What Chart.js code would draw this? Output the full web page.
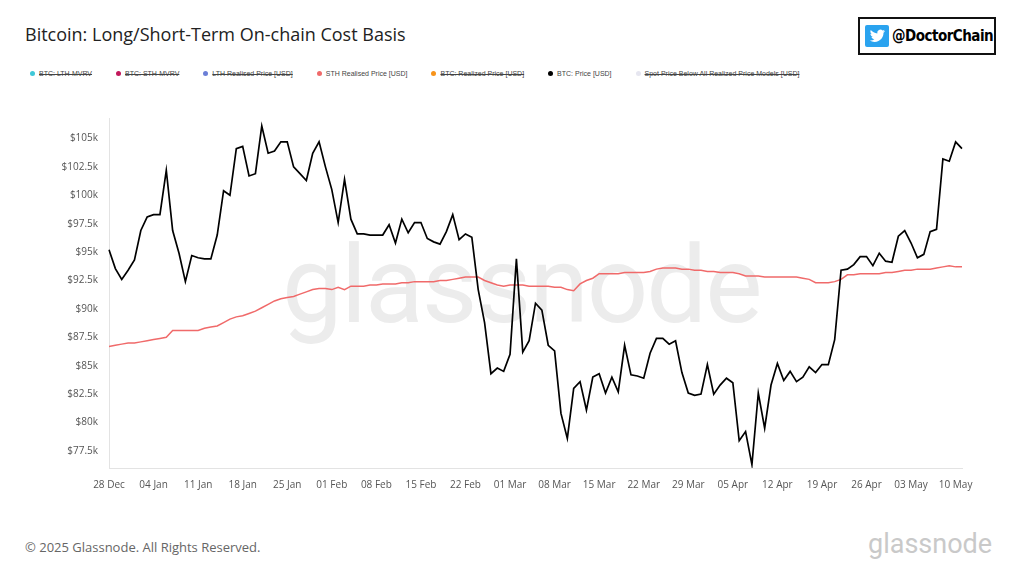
<!DOCTYPE html>
<html><head><meta charset="utf-8">
<script src="https://cdn.jsdelivr.net/npm/chart.js@4"></script>
<style>
body{margin:0;width:1024px;height:576px;background:#fff;font-family:"Open Sans",Roboto,sans-serif;position:relative;overflow:hidden}
#title{position:absolute;left:25px;top:22px;font-size:18px;color:#222}
#legend{position:absolute;left:30px;top:70px;font-size:7px;color:#444;display:flex;gap:0;font-family:"Liberation Sans",sans-serif}
#legend span{display:inline-flex;align-items:center;margin-right:24px}
#legend i{width:5px;height:5px;border-radius:50%;display:inline-block;margin-right:4px}
.st{text-decoration:line-through}
#wm{position:absolute;left:282px;top:222px;font-size:108px;color:#ececec;font-family:Roboto,"Open Sans",sans-serif;letter-spacing:-2px;z-index:0}
#wrap{position:absolute;left:40px;top:100px;width:940px;height:400px;z-index:1}
#foot{position:absolute;left:25px;top:538px;font-size:13px;color:#666}
#flogo{position:absolute;left:868px;top:528px;font-size:27px;color:#c9c9c9;font-family:Roboto,sans-serif}
#badge{position:absolute;left:858px;top:17px;width:138px;height:38px;border:2px solid #111;box-sizing:border-box;display:flex;align-items:center;padding-left:5px;font-weight:bold;font-size:15px;letter-spacing:-0.5px;font-family:"Liberation Sans Narrow","DejaVu Sans Condensed",sans-serif;white-space:nowrap}
#badge b{display:inline-block;width:24px;height:22px;background:#2aa3ef;margin-right:3px;border-radius:2px;position:relative;flex:none}
</style></head><body>
<div id="title">Bitcoin: Long/Short-Term On-chain Cost Basis</div>
<div id="badge"><b><svg width="24" height="22" viewBox="0 0 24 22"><path d="M20 6c-.6.3-1.2.4-1.8.5.7-.4 1.1-1 1.4-1.7-.6.4-1.3.6-2 .8a3.1 3.1 0 0 0-5.3 2.8C9.700 8.300 7.400 7 5.800 5.100c-.8 1.400-.4 3.200 1 4.100-.5 0-1-.2-1.400-.4 0 1.500 1.100 2.800 2.500 3.100-.5.100-1 .2-1.400.1.4 1.300 1.600 2.200 2.900 2.200A6.300 6.300 0 0 1 4.800 15.500c1.400.9 3.100 1.400 4.800 1.400 5.800 0 9-4.800 8.900-9.100.6-.5 1.100-1 1.500-1.800z" fill="#fff"/></svg></b>@DoctorChain</div>
<div id="legend">
<span class="st"><i style="background:#3fc8d8"></i>BTC: LTH-MVRV</span>
<span class="st"><i style="background:#c2185b"></i>BTC: STH-MVRV</span>
<span class="st"><i style="background:#6b7fd7"></i>LTH Realised Price [USD]</span>
<span><i style="background:#f06a6a"></i>STH Realised Price [USD]</span>
<span class="st"><i style="background:#f7931a"></i>BTC: Realized Price [USD]</span>
<span><i style="background:#000"></i>BTC: Price [USD]</span>
<span class="st"><i style="background:#e6e6f0"></i>Spot Price Below All Realized Price Models [USD]</span>
</div>
<div id="wm">glassnode</div>
<div id="wrap"><canvas id="c"></canvas></div>
<div id="foot">© 2025 Glassnode. All Rights Reserved.</div>
<div id="flogo">glassnode</div>
<script>
const startDate = [2024, 11, 28];
const monthNames = ['Jan','Feb','Mar','Apr','May','Jun','Jul','Aug','Sep','Oct','Nov','Dec'];
const btcPrice = [
95.2,93.55,92.6,93.4,
94.3,96.9,98.1,98.3,98.3,102.2,96.9,94.9,92.4,94.7,94.5,94.4,94.4,96.5,100.4,100.0,104.1,104.3,101.7,101.9,106.1,103.7,103.9,104.7,104.7,102.5,101.9,101.3,103.7,104.7,102.5,
100.5,97.6,101.4,97.9,96.6,96.6,96.5,96.5,96.5,97.4,95.8,97.9,96.7,97.6,97.6,96.2,95.9,95.7,96.8,98.3,96.1,96.6,96.3,91.7,88.8,84.3,84.8,84.5,
86.0,94.4,86.2,87.2,90.5,89.9,86.8,86.3,80.8,78.6,83.0,83.6,81.1,84.0,84.3,82.6,84.0,82.7,86.8,84.2,84.1,83.9,86.1,87.4,87.4,86.9,87.2,84.4,82.6,82.4,82.5,
85.1,82.5,83.3,83.9,83.5,78.4,79.2,76.3,82.6,79.5,83.3,85.2,83.7,84.5,83.6,84.0,84.9,84.4,85.1,85.1,87.3,93.4,93.5,93.9,94.6,94.6,93.8,94.9,94.2,94.1,
96.4,96.9,95.8,94.5,94.8,96.8,97.0,103.2,103.0,104.7,104.1
];
const sthPrice = [
86.7,86.8,86.9,87.0,
87.0,87.1,87.2,87.3,87.4,87.5,88.1,88.1,88.1,88.1,88.1,88.3,88.4,88.5,88.8,89.1,89.3,89.4,89.6,89.8,90.1,90.4,90.7,90.9,91.0,91.1,91.3,91.5,91.7,91.8,91.8,
91.7,91.9,91.7,92.0,92.0,92.0,92.1,92.1,92.2,92.2,92.2,92.3,92.3,92.4,92.4,92.4,92.4,92.5,92.5,92.6,92.7,92.8,92.8,92.8,92.5,92.3,92.1,92.0,
92.1,92.1,92.1,92.0,92.0,92.0,92.0,91.9,91.9,91.7,91.6,92.2,92.5,92.7,93.1,93.1,93.1,93.1,93.2,93.2,93.2,93.2,93.3,93.5,93.6,93.6,93.6,93.5,93.5,93.4,93.4,
93.3,93.3,93.2,93.2,93.2,93.1,92.9,92.9,92.9,92.8,92.8,92.8,92.8,92.8,92.8,92.7,92.6,92.3,92.3,92.3,92.4,92.6,93.0,93.0,93.1,93.1,93.1,93.1,93.2,93.2,
93.3,93.4,93.4,93.5,93.5,93.5,93.6,93.7,93.8,93.7,93.7
];
const yTickValues = [77.5,80,82.5,85,87.5,90,92.5,95,97.5,100,102.5,105];

const labels = btcPrice.map((_, i) => {
  const d = new Date(startDate[0], startDate[1], startDate[2] + i);
  return String(d.getDate()).padStart(2,'0') + ' ' + monthNames[d.getMonth()];
});

new Chart(document.getElementById('c'), {
  type: 'line',
  data: { labels, datasets: [
    { label: 'BTC: Price [USD]', data: btcPrice, borderColor: '#000', borderWidth: 1.7, pointRadius: 0, tension: 0 },
    { label: 'STH Realised Price [USD]', data: sthPrice, borderColor: '#f06a6a', borderWidth: 1.5, pointRadius: 0, tension: 0 }
  ]},
  options: {
    responsive: true, maintainAspectRatio: false, animation: false,
    layout: { padding: { top: 18, right: 18 } },
    plugins: { legend: { display: false }, tooltip: { enabled: false } },
    scales: {
      x: {
        grid: { display: false, drawTicks: true },
        border: { color: '#e3e3e3' },
        ticks: { autoSkip: false, maxRotation: 0, color: '#555', font: { size: 10, family: 'Open Sans' },
          callback: (v, i) => i % 7 === 0 ? labels[i] : null },
        afterFit: s => { s.height = 32; }
      },
      y: {
        min: 76, max: 106.8,
        grid: { display: false },
        border: { color: '#e3e3e3' },
        afterBuildTicks: s => { s.ticks = yTickValues.map(v => ({ value: v })); },
        ticks: { color: '#555', font: { size: 10, family: 'Open Sans' },
          callback: v => '$' + v + 'k' },
        afterFit: s => { s.width = 69; }
      }
    }
  }
});
</script>
</body></html>
